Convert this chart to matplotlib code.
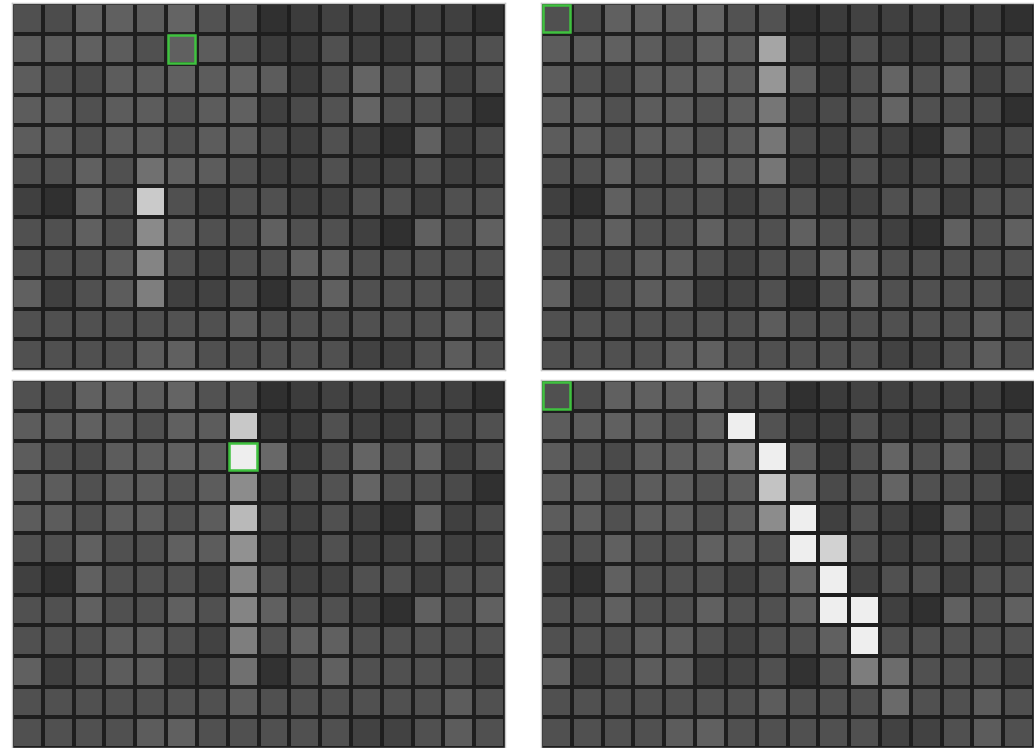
import numpy as np
import matplotlib.pyplot as plt
from matplotlib.patches import Rectangle

# base grey level of each cell (0-255), 12 rows x 16 columns
base = [
    [80, 76, 96, 96, 92, 100, 82, 82, 48, 60, 66, 64, 64, 66, 64, 48],
    [92, 92, 96, 92, 80, 96, 92, 82, 60, 60, 80, 64, 60, 80, 74, 80],
    [92, 80, 74, 92, 92, 96, 92, 98, 92, 60, 80, 100, 80, 96, 66, 80],
    [92, 92, 80, 92, 92, 82, 92, 96, 64, 74, 82, 100, 80, 80, 74, 48],
    [92, 92, 80, 92, 92, 80, 92, 92, 74, 64, 80, 64, 48, 96, 64, 74],
    [80, 80, 96, 80, 80, 96, 92, 80, 64, 64, 80, 64, 66, 80, 64, 66],
    [64, 48, 96, 80, 80, 80, 64, 80, 80, 64, 66, 80, 80, 64, 80, 80],
    [80, 80, 96, 80, 80, 96, 80, 80, 96, 80, 80, 64, 48, 96, 80, 96],
    [80, 80, 80, 92, 92, 80, 66, 80, 80, 96, 96, 80, 80, 80, 80, 80],
    [96, 64, 80, 92, 92, 64, 66, 80, 50, 80, 96, 80, 80, 80, 80, 66],
    [80, 80, 80, 80, 80, 82, 80, 92, 80, 80, 80, 80, 80, 80, 92, 80],
    [80, 80, 80, 80, 92, 96, 80, 80, 80, 80, 80, 66, 66, 80, 92, 80],
]

# brighter cells per panel: (row, col, grey)
bright_a = [(5, 4, 112), (6, 4, 202), (7, 4, 138), (8, 4, 132), (9, 4, 126)]
bright_b = [(1, 7, 165), (2, 7, 150), (3, 7, 118), (4, 7, 118), (5, 7, 118)]
bright_c = [(1, 7, 200), (2, 7, 238), (2, 8, 104), (3, 7, 140), (4, 7, 185),
            (5, 7, 145), (6, 7, 132), (7, 7, 132), (8, 7, 126), (9, 7, 112)]
bright_d = [(1, 6, 238), (2, 6, 125), (2, 7, 238), (3, 7, 195), (3, 8, 120),
            (4, 7, 140), (4, 8, 238), (5, 8, 238), (5, 9, 210), (6, 8, 102),
            (6, 9, 238), (7, 9, 238), (7, 10, 238), (8, 10, 238), (9, 10, 125),
            (9, 11, 108), (10, 11, 106)]

# green-framed cell per panel (row, col)
marked = [(1, 5), (0, 0), (2, 7), (0, 0)]


def draw_panel(ax, bright, mark):
    grid = np.array(base, dtype=float)
    for r, c, v in bright:
        grid[r, c] = v
    ax.pcolormesh(grid, cmap="gray", vmin=0, vmax=255,
                  edgecolors="#1e1e1e", linewidth=2.8)
    r, c = mark
    ax.add_patch(Rectangle((c + 0.05, r + 0.05), 0.9, 0.9, fill=False,
                           edgecolor="#3fc23f", linewidth=1.8, zorder=3))
    ax.set_xlim(0, 16)
    ax.set_ylim(12, 0)
    ax.set_xticks([])
    ax.set_yticks([])
    for s in ax.spines.values():
        s.set_color("#c8c8c8")
        s.set_linewidth(1)


fig = plt.figure(figsize=(10.34, 7.48), dpi=100)
w = 493 / 1034
h = 367 / 748
positions = [
    (12 / 1034, 1 - 370 / 748, w, h),
    (541 / 1034, 1 - 370 / 748, w, h),
    (12 / 1034, 0, w, 368 / 748),
    (541 / 1034, 0, w, 368 / 748),
]
panels = [bright_a, bright_b, bright_c, bright_d]

for pos, bright, mark in zip(positions, panels, marked):
    ax = fig.add_axes(pos)
    draw_panel(ax, bright, mark)

fig.savefig("out.png", dpi=100)
